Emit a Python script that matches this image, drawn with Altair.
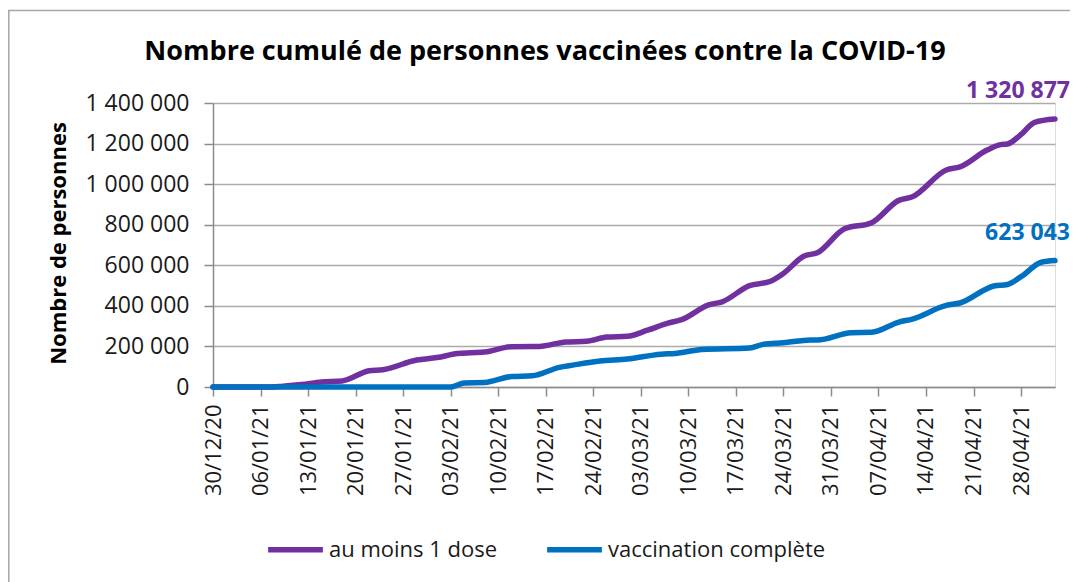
import altair as alt
import pandas as pd

# ---- data ----
dose1_dates = ["2020-12-30", "2021-01-07", "2021-01-09", "2021-01-12", "2021-01-15", "2021-01-18",
               "2021-01-22", "2021-01-24", "2021-01-29", "2021-02-01", "2021-02-04", "2021-02-06",
               "2021-02-08", "2021-02-12", "2021-02-16", "2021-02-20", "2021-02-23", "2021-02-26",
               "2021-03-01", "2021-03-04", "2021-03-07", "2021-03-09", "2021-03-13", "2021-03-15",
               "2021-03-19", "2021-03-22", "2021-03-24", "2021-03-27", "2021-03-29", "2021-04-02",
               "2021-04-06", "2021-04-10", "2021-04-12", "2021-04-17", "2021-04-19", "2021-04-23",
               "2021-04-25", "2021-04-26", "2021-04-28", "2021-04-30", "2021-05-03"]
dose1_values = [0, 0, 3000, 12000, 25000, 30000,
                80000, 85000, 133000, 145000, 165000, 169000,
                172000, 199000, 200000, 222000, 225000, 246000,
                250000, 280000, 315000, 332000, 405000, 420000,
                500000, 520000, 560000, 645000, 662000, 780000,
                810000, 920000, 938000, 1070000, 1085000, 1168000,
                1195000, 1198000, 1245000, 1305000, 1320877]

full_dates = ["2020-12-30", "2021-02-03", "2021-02-05", "2021-02-08", "2021-02-12", "2021-02-15",
              "2021-02-19", "2021-02-21", "2021-02-25", "2021-03-01", "2021-03-06", "2021-03-08",
              "2021-03-12", "2021-03-19", "2021-03-21", "2021-03-24", "2021-03-28", "2021-03-29",
              "2021-04-03", "2021-04-06", "2021-04-10", "2021-04-12", "2021-04-17", "2021-04-19",
              "2021-04-24", "2021-04-26", "2021-04-28", "2021-05-01", "2021-05-03"]
full_values = [0, 0, 20000, 22000, 52000, 55000,
               97000, 108000, 128000, 138000, 162000, 165000,
               185000, 192000, 210000, 218000, 232000, 232000,
               268000, 270000, 320000, 335000, 402000, 414000,
               498000, 505000, 544000, 615000, 623043]

series_names = ["au moins 1 dose", "vaccination complète"]
series_colors = ["#7030A0", "#0070C0"]
end_labels = ["1 320 877", "623 043"]
title_text = "Nombre cumulé de personnes vaccinées contre la COVID-19"

tick_dates = ["2020-12-30", "2021-01-06", "2021-01-13", "2021-01-20", "2021-01-27", "2021-02-03",
              "2021-02-10", "2021-02-17", "2021-02-24", "2021-03-03", "2021-03-10", "2021-03-17",
              "2021-03-24", "2021-03-31", "2021-04-07", "2021-04-14", "2021-04-21", "2021-04-28"]
y_ticks = [0, 200000, 400000, 600000, 800000, 1000000, 1200000, 1400000]

FONT = "Open Sans"

rows = []
for d, v in zip(dose1_dates, dose1_values):
    rows.append({"date": d + "T00:00:00", "value": v, "series": series_names[0]})
for d, v in zip(full_dates, full_values):
    rows.append({"date": d + "T00:00:00", "value": v, "series": series_names[1]})
df = pd.DataFrame(rows)

ends = pd.DataFrame({
    "date": [dose1_dates[-1] + "T00:00:00", full_dates[-1] + "T00:00:00"],
    "value": [dose1_values[-1], full_values[-1]],
    "series": series_names,
    "label": end_labels,
})


def dt(s):
    y, m, d = map(int, s.split("-"))
    return alt.DateTime(year=y, month=m, date=d)


x_scale = alt.Scale(domain=[dt("2020-12-30"), dt("2021-05-03")], nice=False)
y_scale = alt.Scale(domain=[0, 1400000], nice=False)
color_scale = alt.Scale(domain=series_names, range=series_colors)

x_enc = alt.X("date:T", scale=x_scale,
              axis=alt.Axis(values=[dt(t) for t in tick_dates], format="%d/%m/%y",
                            labelAngle=270, labelAlign="right", labelBaseline="middle",
                            labelFontSize=22, labelFont=FONT, labelColor="#1a1a1a",
                            labelPadding=8, tickSize=9, tickColor="#8c8c8c", tickWidth=1.5,
                            domainColor="#8c8c8c", domainWidth=1.5, grid=False, title=None,
                            labelOverlap=False, labelFlush=False))
y_enc = alt.Y("value:Q", scale=y_scale,
              axis=alt.Axis(values=y_ticks,
                            labelExpr="replace(format(datum.value, ','), regexp(',', 'g'), ' ')",
                            labelFontSize=23, labelFont=FONT, labelColor="#1a1a1a",
                            labelPadding=15, tickSize=9, tickColor="#8c8c8c", tickWidth=1.5,
                            domainColor="#8c8c8c", domainWidth=1.5,
                            grid=True, gridColor="#ababab", gridWidth=1.5,
                            title="Nombre de personnes", titleFont=FONT, titleFontSize=22,
                            titleFontWeight="bold", titleColor="#000000",
                            titleAngle=270, titleX=-155, titleY=140, titleBaseline="middle",
                            titleAlign="center"))

lines = alt.Chart(df).mark_line(strokeWidth=5.5, interpolate="monotone", strokeCap="round").encode(
    x=x_enc, y=y_enc,
    color=alt.Color("series:N", scale=color_scale,
                    legend=alt.Legend(orient="none", legendX=52, legendY=416, direction="horizontal",
                                      title=None, symbolType="stroke", symbolSize=3000,
                                      symbolStrokeWidth=5.5, labelFontSize=22, labelFont=FONT,
                                      labelColor="#1a1a1a", labelOffset=3, columnPadding=38,
                                      labelLimit=400, symbolOpacity=1)),
)

labels = alt.Chart(ends).mark_text(align="right", baseline="bottom", dx=15, dy=-16,
                                   fontSize=23, font=FONT, fontWeight="bold").encode(
    x=alt.X("date:T", scale=x_scale),
    y=alt.Y("value:Q", scale=y_scale),
    text="label:N",
    color=alt.Color("series:N", scale=color_scale, legend=None),
)

title = alt.Chart(alt.Data(values=[{"t": title_text}])).mark_text(
    align="center", baseline="alphabetic", fontSize=27, font=FONT, fontWeight="bold", color="#000000"
).encode(x=alt.value(332), y=alt.value(-43), text="t:N")

border = alt.Chart(alt.Data(values=[{}])).mark_rect(fill=None, stroke="#a6a6a6", strokeWidth=1.5).encode(
    x=alt.value(-204.2), x2=alt.value(900), y=alt.value(-92.5), y2=alt.value(600)
)

chart = alt.layer(border, title, lines, labels).properties(
    width=842, height=284,
    padding={"left": 205, "top": 95, "right": 15, "bottom": 195},
    autosize=alt.AutoSizeParams(type="none"),
).configure_view(stroke=None).configure(background="white")

chart.save("out.html", embed_options={"renderer": "svg", "actions": False})
